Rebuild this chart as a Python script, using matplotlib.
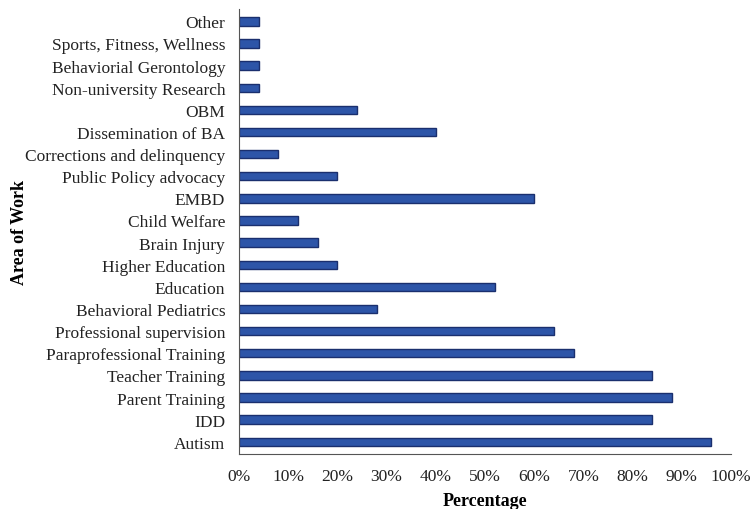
import matplotlib
matplotlib.use("Agg")
import matplotlib.pyplot as plt
from matplotlib.ticker import FuncFormatter

categories = ["Autism", "IDD", "Parent Training", "Teacher Training",
              "Paraprofessional Training", "Professional supervision",
              "Behavioral Pediatrics", "Education", "Higher Education",
              "Brain Injury", "Child Welfare", "EMBD", "Public Policy advocacy",
              "Corrections and delinquency", "Dissemination of BA", "OBM",
              "Non-university Research", "Behaviorial Gerontology",
              "Sports, Fitness, Wellness", "Other"]
values = [96, 84, 88, 84, 68, 64, 28, 52, 20, 16, 12, 60, 20, 8, 40, 24, 4, 4, 4, 4]
xticks = [0, 10, 20, 30, 40, 50, 60, 70, 80, 90, 100]

plt.rcParams['font.family'] = ['Liberation Serif', 'DejaVu Serif']

fig = plt.figure(figsize=(7.55, 5.10), dpi=100)
ax = fig.add_axes([0.3166, 0.108, 0.6515, 0.872])

y = list(range(len(categories)))
ax.barh(y, values, height=0.38, color="#2d55a8", edgecolor="#1a2f6e", linewidth=1.0)

ax.set_ylim(-0.55, len(categories) - 0.45)
ax.set_xlim(0, 100)
ax.set_yticks(y)
ax.set_yticklabels(categories, fontsize=12.5, color="#222222")
ax.set_xticks(xticks)
ax.xaxis.set_major_formatter(FuncFormatter(lambda v, p: f"{int(v)}%"))
ax.tick_params(axis='x', labelsize=12.5, colors="#222222", length=0, pad=10)
ax.tick_params(axis='y', length=0, pad=10)

for s in ["top", "right"]:
    ax.spines[s].set_visible(False)
ax.spines["left"].set_color("#555555")
ax.spines["bottom"].set_color("#555555")

ax.set_xlabel("Percentage", fontsize=13, fontweight="bold", labelpad=6)
ax.set_ylabel("Area of Work", fontsize=13, fontweight="bold")
ax.yaxis.set_label_coords(-0.43, 0.5)

fig.savefig("out.png", dpi=100)
